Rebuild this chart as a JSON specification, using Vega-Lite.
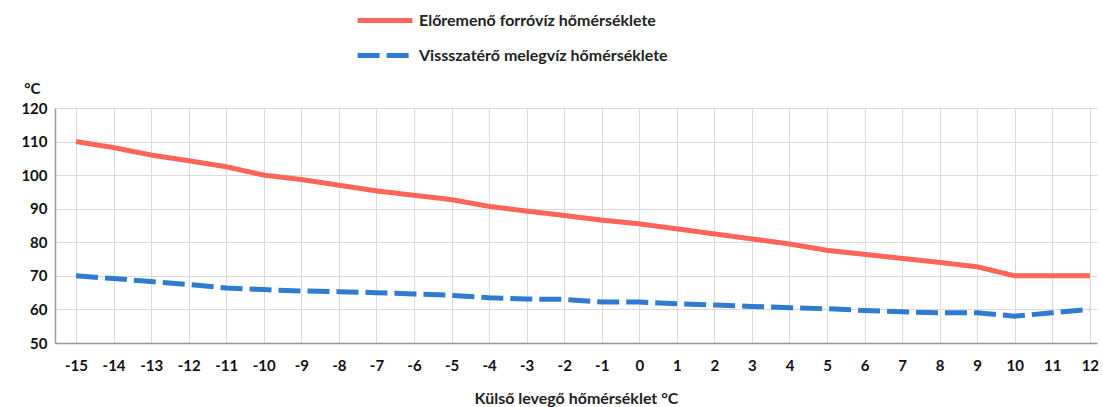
{
  "$schema": "https://vega.github.io/schema/vega-lite/v6.json",
  "width": 1042,
  "height": 235,
  "autosize": {"type": "none"},
  "padding": {"left": 55, "top": 108, "right": 6, "bottom": 64},
  "background": "white",
  "config": {
    "font": "Lato",
    "view": {"stroke": null}
  },
  "data": {
    "values": [
      {"x": -15, "s": "Előremenő forróvíz hőmérséklete", "t": 110},
      {"x": -14, "s": "Előremenő forróvíz hőmérséklete", "t": 108.2},
      {"x": -13, "s": "Előremenő forróvíz hőmérséklete", "t": 106},
      {"x": -12, "s": "Előremenő forróvíz hőmérséklete", "t": 104.3},
      {"x": -11, "s": "Előremenő forróvíz hőmérséklete", "t": 102.5},
      {"x": -10, "s": "Előremenő forróvíz hőmérséklete", "t": 100},
      {"x": -9, "s": "Előremenő forróvíz hőmérséklete", "t": 98.7},
      {"x": -8, "s": "Előremenő forróvíz hőmérséklete", "t": 97},
      {"x": -7, "s": "Előremenő forróvíz hőmérséklete", "t": 95.3},
      {"x": -6, "s": "Előremenő forróvíz hőmérséklete", "t": 94},
      {"x": -5, "s": "Előremenő forróvíz hőmérséklete", "t": 92.7},
      {"x": -4, "s": "Előremenő forróvíz hőmérséklete", "t": 90.7},
      {"x": -3, "s": "Előremenő forróvíz hőmérséklete", "t": 89.3},
      {"x": -2, "s": "Előremenő forróvíz hőmérséklete", "t": 88},
      {"x": -1, "s": "Előremenő forróvíz hőmérséklete", "t": 86.6},
      {"x": 0, "s": "Előremenő forróvíz hőmérséklete", "t": 85.5},
      {"x": 1, "s": "Előremenő forróvíz hőmérséklete", "t": 84},
      {"x": 2, "s": "Előremenő forróvíz hőmérséklete", "t": 82.5},
      {"x": 3, "s": "Előremenő forróvíz hőmérséklete", "t": 81},
      {"x": 4, "s": "Előremenő forróvíz hőmérséklete", "t": 79.5},
      {"x": 5, "s": "Előremenő forróvíz hőmérséklete", "t": 77.6},
      {"x": 6, "s": "Előremenő forróvíz hőmérséklete", "t": 76.4},
      {"x": 7, "s": "Előremenő forróvíz hőmérséklete", "t": 75.2},
      {"x": 8, "s": "Előremenő forróvíz hőmérséklete", "t": 74},
      {"x": 9, "s": "Előremenő forróvíz hőmérséklete", "t": 72.7},
      {"x": 10, "s": "Előremenő forróvíz hőmérséklete", "t": 70},
      {"x": 11, "s": "Előremenő forróvíz hőmérséklete", "t": 70},
      {"x": 12, "s": "Előremenő forróvíz hőmérséklete", "t": 70},
      {"x": -15, "s": "Vissszatérő melegvíz hőmérséklete", "t": 70},
      {"x": -14, "s": "Vissszatérő melegvíz hőmérséklete", "t": 69.2},
      {"x": -13, "s": "Vissszatérő melegvíz hőmérséklete", "t": 68.3},
      {"x": -12, "s": "Vissszatérő melegvíz hőmérséklete", "t": 67.4},
      {"x": -11, "s": "Vissszatérő melegvíz hőmérséklete", "t": 66.4},
      {"x": -10, "s": "Vissszatérő melegvíz hőmérséklete", "t": 65.9},
      {"x": -9, "s": "Vissszatérő melegvíz hőmérséklete", "t": 65.5},
      {"x": -8, "s": "Vissszatérő melegvíz hőmérséklete", "t": 65.3},
      {"x": -7, "s": "Vissszatérő melegvíz hőmérséklete", "t": 65},
      {"x": -6, "s": "Vissszatérő melegvíz hőmérséklete", "t": 64.6},
      {"x": -5, "s": "Vissszatérő melegvíz hőmérséklete", "t": 64.2},
      {"x": -4, "s": "Vissszatérő melegvíz hőmérséklete", "t": 63.5},
      {"x": -3, "s": "Vissszatérő melegvíz hőmérséklete", "t": 63.1},
      {"x": -2, "s": "Vissszatérő melegvíz hőmérséklete", "t": 63},
      {"x": -1, "s": "Vissszatérő melegvíz hőmérséklete", "t": 62.2},
      {"x": 0, "s": "Vissszatérő melegvíz hőmérséklete", "t": 62.2},
      {"x": 1, "s": "Vissszatérő melegvíz hőmérséklete", "t": 61.7},
      {"x": 2, "s": "Vissszatérő melegvíz hőmérséklete", "t": 61.3},
      {"x": 3, "s": "Vissszatérő melegvíz hőmérséklete", "t": 60.9},
      {"x": 4, "s": "Vissszatérő melegvíz hőmérséklete", "t": 60.5},
      {"x": 5, "s": "Vissszatérő melegvíz hőmérséklete", "t": 60.2},
      {"x": 6, "s": "Vissszatérő melegvíz hőmérséklete", "t": 59.7},
      {"x": 7, "s": "Vissszatérő melegvíz hőmérséklete", "t": 59.3},
      {"x": 8, "s": "Vissszatérő melegvíz hőmérséklete", "t": 59},
      {"x": 9, "s": "Vissszatérő melegvíz hőmérséklete", "t": 59},
      {"x": 10, "s": "Vissszatérő melegvíz hőmérséklete", "t": 58},
      {"x": 11, "s": "Vissszatérő melegvíz hőmérséklete", "t": 59},
      {"x": 12, "s": "Vissszatérő melegvíz hőmérséklete", "t": 60}
    ]
  },
  "mark": {"type": "line", "strokeWidth": 5, "strokeCap": "butt"},
  "encoding": {
    "x": {
      "field": "x",
      "type": "quantitative",
      "scale": {"domain": [-15.56, 12.19], "nice": false, "zero": false},
      "axis": {
        "values": [-15,-14,-13,-12,-11,-10,-9,-8,-7,-6,-5,-4,-3,-2,-1,0,1,2,3,4,5,6,7,8,9,10,11,12],
        "labelExpr": "toString(datum.value)",
        "title": "Külső levegő hőmérséklet °C",
        "titleFontSize": 16,
        "titleFontWeight": "bold",
        "titleColor": "#222",
        "titlePadding": 17,
        "labelFontSize": 15,
        "labelFontWeight": "bold",
        "labelColor": "#111",
        "labelPadding": 15,
        "ticks": false,
        "domainColor": "#999",
        "domainWidth": 1.5,
        "grid": true,
        "gridColor": "#dadada",
        "gridWidth": 1
      }
    },
    "y": {
      "field": "t",
      "type": "quantitative",
      "scale": {"domain": [50, 120], "nice": false, "zero": false},
      "axis": {
        "values": [50, 60, 70, 80, 90, 100, 110, 120],
        "title": "°C",
        "titleAngle": 0,
        "titleAlign": "right",
        "titleBaseline": "middle",
        "titleX": -15,
        "titleY": -20,
        "titleFontSize": 15,
        "titleFontWeight": "bold",
        "titleColor": "#111",
        "labelFontSize": 15,
        "labelFontWeight": "bold",
        "labelColor": "#111",
        "labelPadding": 8,
        "ticks": false,
        "domainColor": "#999",
        "domainWidth": 1.5,
        "grid": true,
        "gridColor": "#dadada",
        "gridWidth": 1
      }
    },
    "color": {
      "field": "s",
      "type": "nominal",
      "scale": {"domain": ["Előremenő forróvíz hőmérséklete", "Vissszatérő melegvíz hőmérséklete"], "range": ["#ff6459", "#2f7bd0"]},
      "legend": {
        "orient": "none",
        "legendX": 300,
        "legendY": -98,
        "title": null,
        "direction": "vertical",
        "symbolType": "stroke",
        "symbolSize": 3000,
        "symbolStrokeWidth": 5,
        "clipHeight": 21,
        "labelFontSize": 16,
        "labelFontWeight": "bold",
        "labelColor": "#222",
        "labelLimit": 500,
        "rowPadding": 14,
        "labelOffset": 4
      }
    },
    "strokeDash": {
      "field": "s",
      "type": "nominal",
      "scale": {"domain": ["Előremenő forróvíz hőmérséklete", "Vissszatérő melegvíz hőmérséklete"], "range": [[1, 0], [22, 7]]},
      "legend": {
        "orient": "none",
        "legendX": 300,
        "legendY": -98,
        "title": null,
        "direction": "vertical",
        "symbolType": "stroke",
        "symbolSize": 3000,
        "symbolStrokeWidth": 5,
        "clipHeight": 21,
        "labelFontSize": 16,
        "labelFontWeight": "bold",
        "labelColor": "#222",
        "labelLimit": 500,
        "rowPadding": 14,
        "labelOffset": 4
      }
    }
  }
}
